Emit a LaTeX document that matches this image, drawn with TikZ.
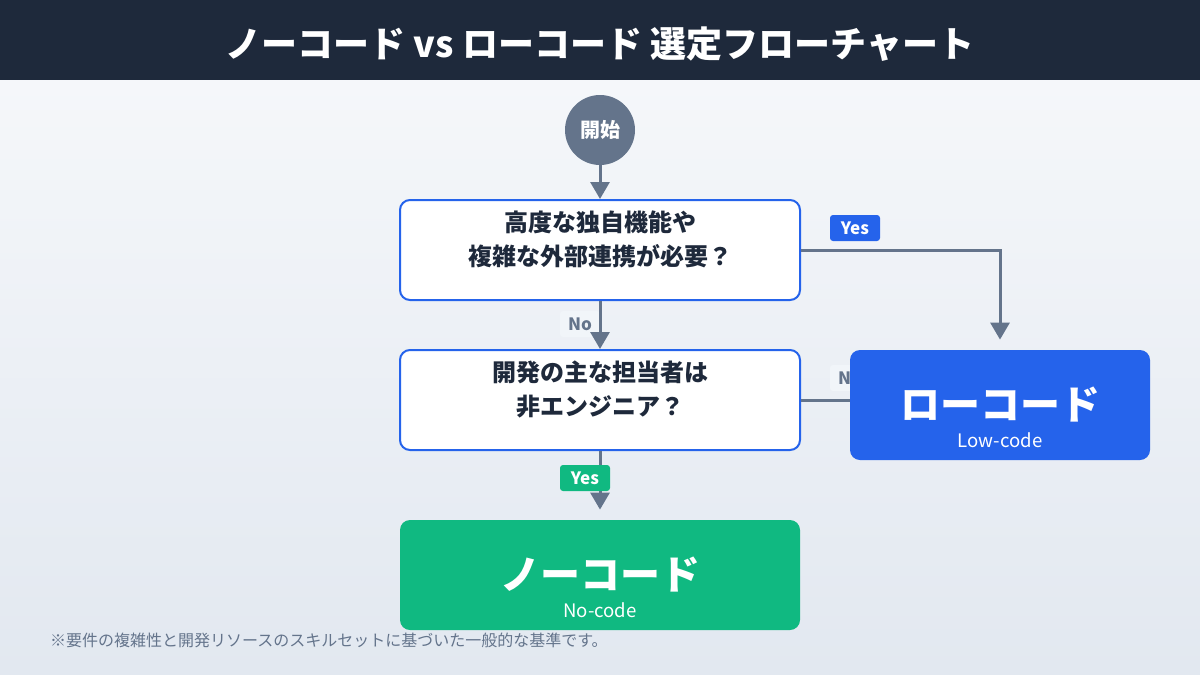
\documentclass[tikz,border=0pt]{standalone}
\usepackage{fontspec}
\usepackage{xcolor}
\setmainfont{Noto Sans CJK JP}
\usetikzlibrary{arrows.meta}
\definecolor{navy}{HTML}{1E293B}
\definecolor{slate}{HTML}{64748B}
\definecolor{lowblue}{HTML}{2563EB}
\definecolor{nogreen}{HTML}{10B981}
\definecolor{tagbg}{HTML}{F1F5F9}
\definecolor{bgtop}{HTML}{F5F7FA}
\definecolor{bgbot}{HTML}{E2E8F0}
\tikzset{>={Triangle[width=9.5pt,length=8.5pt]}}
\tikzset{
  qbox/.style={draw=lowblue,line width=1pt,fill=white,rounded corners=5pt,minimum width=200pt,minimum height=50pt},
  qtext/.style={text=navy,font=\fontsize{12}{17}\selectfont\bfseries,align=center},
  endbox/.style={rounded corners=5pt,minimum width=#1,minimum height=55pt,text=white,font=\fontsize{20}{22}\selectfont\bfseries},
  sub/.style={text=white,font=\fontsize{9.3}{11}\selectfont},
  tag/.style={rounded corners=1.5pt,minimum width=25pt,minimum height=13pt,inner sep=0pt,font=\fontsize{8.5}{10}\selectfont\bfseries},
  notag/.style={tag,minimum width=20pt,fill=tagbg,text=slate},
  flow/.style={slate,line width=1.5pt}
}

\begin{document}
\begin{tikzpicture}[x=0.5pt,y=-0.5pt]
\useasboundingbox (0,0) rectangle (1200,675);

% background and title bar
\shade[top color=bgtop,bottom color=bgbot] (0,80) rectangle (1200,675);
\fill[navy] (0,0) rectangle (1200,80);
\node[text=white,font=\fontsize{18}{20}\selectfont\bfseries] (title) at (600,44) {ノーコード vs ローコード 選定フローチャート};

\node[circle,fill=slate,minimum size=35pt,inner sep=0pt,text=white,font=\fontsize{10}{12}\selectfont\bfseries] (start) at (600,130) {開始};

\node[qbox,label={[qtext,yshift=5.5pt]center:高度な独自機能や\\複雑な外部連携が必要？}] (q1) at (600,250) {};
\node[qbox,label={[qtext,yshift=5.5pt]center:開発の主な担当者は\\非エンジニア？}] (q2) at (600,400) {};

\node[notag] (nolow) at (850,378) {No};%mostly hidden by the box
\node[endbox=150pt,fill=lowblue,label={[sub,anchor=center,yshift=10pt]south:Low-code}] (lowcode) at (1000,405) {ローコード};
\node[endbox=200pt,fill=nogreen,label={[sub,anchor=center,yshift=10pt]south:No-code}] (nocode) at (600,575) {ノーコード};

\draw[flow,->] (start) -- (q1);
\node[tag,fill=lowblue,text=white] (yeslow) at (855,228) {Yes};
\draw[flow,->,shorten >=5pt] (q1.east) -| (lowcode.north);
\node[notag] (noq) at (580,324) {No};
\draw[flow,->] (q1) -- (q2);
\draw[flow] (q2.east) -- (q2.east -| lowcode.west);
\draw[flow,->,shorten >=5pt] (q2) -- (nocode);
\node[tag,fill=nogreen,text=white] (yesno) at (585,478) {Yes};

\node[anchor=west,text=slate,font=\fontsize{8}{10}\selectfont] (note) at (43,640) {※要件の複雑性と開発リソースのスキルセットに基づいた一般的な基準です。};
\end{tikzpicture}
\end{document}
